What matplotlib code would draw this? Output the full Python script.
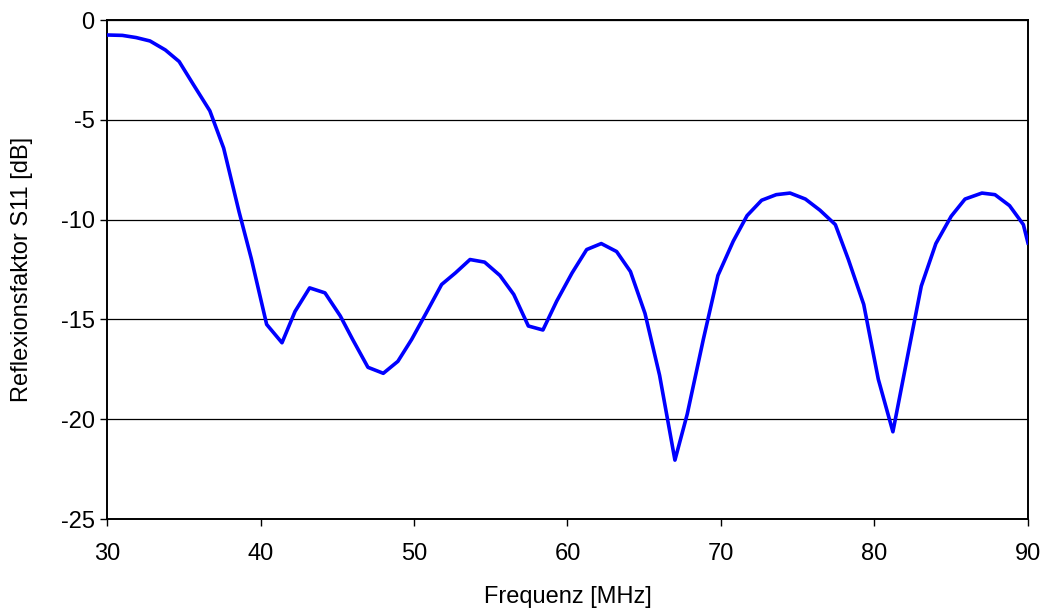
import matplotlib.pyplot as plt

freq = [30.0, 31.0, 31.9, 32.8, 33.8, 34.7, 35.6, 36.7, 37.6, 38.6, 39.4,
        40.4, 41.4, 42.25, 43.2, 44.2, 45.2, 46.0, 47.0, 48.0, 48.95,
        49.85, 50.8, 51.8, 52.7, 53.65, 54.6, 55.6, 56.5, 57.45, 58.4,
        59.3, 60.3, 61.25, 62.2, 63.2, 64.1, 65.05, 66.0, 67.0, 67.8,
        68.85, 69.8, 70.8, 71.7, 72.65, 73.6, 74.5, 75.5, 76.45, 77.45,
        78.3, 79.3, 80.25, 81.2, 82.2, 83.05, 84.0, 85.0, 85.9, 87.0,
        87.85, 88.8, 89.7, 90.0]
s11 = [-0.75, -0.77, -0.88, -1.05, -1.5, -2.08, -3.2, -4.55, -6.42, -9.6, -11.95,
       -15.25, -16.17, -14.6, -13.42, -13.67, -14.83, -16.0, -17.4, -17.7, -17.1,
       -16.0, -14.67, -13.25, -12.67, -12.0, -12.13, -12.8, -13.75, -15.33, -15.53,
       -14.08, -12.67, -11.5, -11.2, -11.6, -12.6, -14.7, -17.8, -22.05, -19.75,
       -16.0, -12.8, -11.08, -9.8, -9.03, -8.75, -8.67, -8.97, -9.53, -10.25,
       -12.0, -14.25, -18.0, -20.63, -16.67, -13.33, -11.2, -9.83, -8.97, -8.67,
       -8.75, -9.3, -10.25, -11.17]

xticks = [30, 40, 50, 60, 70, 80, 90]
yticks = [0, -5, -10, -15, -20, -25]

plt.rcParams['font.family'] = ['Liberation Sans', 'DejaVu Sans']
plt.rcParams['axes.unicode_minus'] = False

fig = plt.figure(figsize=(10.45, 6.14), dpi=100)
ax = fig.add_axes([0.1024, 0.1547, 0.8813, 0.8127])

# Gitterlinien wie in Excel
for y in yticks:
    ax.axhline(y, color='black', lw=0.9, zorder=1)
ax.plot(freq, s11, color='#0000ff', lw=2.6, zorder=3)

ax.set_xlim(30, 90)
ax.set_ylim(-25, 0)
ax.set_xticks(xticks)
ax.set_yticks(yticks)
ax.tick_params(direction='out', length=5, width=1, labelsize=17)
ax.tick_params(axis='x', pad=12)
ax.tick_params(axis='y', pad=4)
for s in ax.spines.values():
    s.set_linewidth(1.4)

ax.set_xlabel('Frequenz [MHz]', fontsize=17)
ax.set_ylabel('Reflexionsfaktor S11 [dB]', fontsize=17)
ax.xaxis.label.set_va('center')
ax.yaxis.label.set_va('center')
ax.xaxis.set_label_coords(0.5, (519 - 597) / 499)
ax.yaxis.set_label_coords((22 - 107) / 921, 0.5)

fig.savefig('out.png', dpi=100)
